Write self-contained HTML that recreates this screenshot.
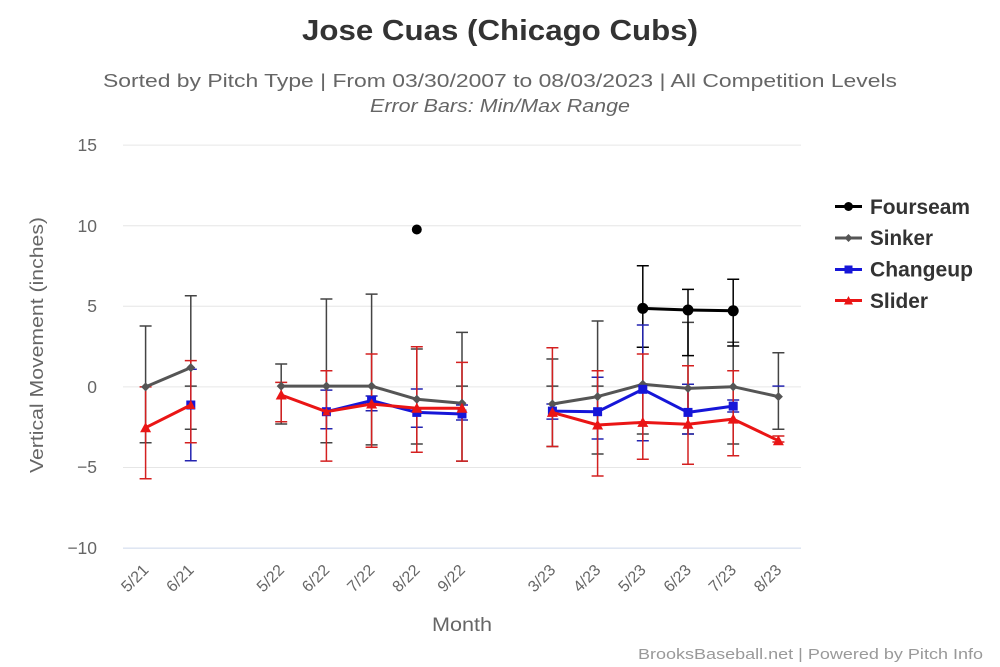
<!DOCTYPE html>
<html>
<head>
<meta charset="utf-8">
<style>
  html,body{margin:0;padding:0;background:#fff;}
  svg{display:block;}
  text{font-family:"Liberation Sans",sans-serif;}
</style>
</head>
<body>
<svg width="1000" height="667" viewBox="0 0 1000 667" xmlns="http://www.w3.org/2000/svg">
  <rect width="1000" height="667" fill="#fff"/>

  <!-- Titles -->
  <text x="500" y="40" text-anchor="middle" font-size="29" font-weight="bold" fill="#333" textLength="396" lengthAdjust="spacingAndGlyphs">Jose Cuas (Chicago Cubs)</text>
  <text x="500" y="87" text-anchor="middle" font-size="18.5" fill="#666" textLength="794" lengthAdjust="spacingAndGlyphs">Sorted by Pitch Type | From 03/30/2007 to 08/03/2023 | All Competition Levels</text>
  <text x="500" y="112" text-anchor="middle" font-size="18" font-style="italic" fill="#666" textLength="260" lengthAdjust="spacingAndGlyphs">Error Bars: Min/Max Range</text>

  <!-- Grid -->
  <g stroke="#e6e6e6" stroke-width="1">
    <line x1="123" y1="145.1" x2="801" y2="145.1"/>
    <line x1="123" y1="225.7" x2="801" y2="225.7"/>
    <line x1="123" y1="306.3" x2="801" y2="306.3"/>
    <line x1="123" y1="386.9" x2="801" y2="386.9"/>
    <line x1="123" y1="467.5" x2="801" y2="467.5"/>
  </g>
  <line x1="123" y1="548.1" x2="801" y2="548.1" stroke="#ccd6eb" stroke-width="1"/>

  <!-- Y tick labels -->
  <g font-size="17.5" fill="#666" text-anchor="end">
    <text x="97" y="151">15</text>
    <text x="97" y="232">10</text>
    <text x="97" y="312">5</text>
    <text x="97" y="393">0</text>
    <text x="97" y="473">−5</text>
    <text x="97" y="554">−10</text>
  </g>

  <!-- Y axis title -->
  <text transform="translate(43,345) rotate(-90)" text-anchor="middle" font-size="18" fill="#666" textLength="256" lengthAdjust="spacingAndGlyphs">Vertical Movement (inches)</text>

  <!-- X labels -->
  <g font-size="16" fill="#666" text-anchor="end">
    <text transform="translate(149.6,571) rotate(-45)">5/21</text>
    <text transform="translate(194.8,571) rotate(-45)">6/21</text>
    <text transform="translate(285.2,571) rotate(-45)">5/22</text>
    <text transform="translate(330.4,571) rotate(-45)">6/22</text>
    <text transform="translate(375.6,571) rotate(-45)">7/22</text>
    <text transform="translate(420.8,571) rotate(-45)">8/22</text>
    <text transform="translate(466,571) rotate(-45)">9/22</text>
    <text transform="translate(556.4,571) rotate(-45)">3/23</text>
    <text transform="translate(601.6,571) rotate(-45)">4/23</text>
    <text transform="translate(646.8,571) rotate(-45)">5/23</text>
    <text transform="translate(692,571) rotate(-45)">6/23</text>
    <text transform="translate(737.2,571) rotate(-45)">7/23</text>
    <text transform="translate(782.4,571) rotate(-45)">8/23</text>
  </g>

  <text x="462" y="631" text-anchor="middle" font-size="19" fill="#666" textLength="60" lengthAdjust="spacingAndGlyphs">Month</text>

  <!-- Error bars: Sinker -->
  <g stroke="#444" stroke-width="1.5" fill="none">
    <path d="M139.6 326H151.6M145.6 326V442.7M139.6 442.7H151.6"/>
    <path d="M184.8 295.7H196.8M190.8 295.7V386.1M184.8 386.1H196.8"/>
    <path d="M275.2 364H287.2M281.2 364V424M275.2 424H287.2"/>
    <path d="M320.4 299H332.4M326.4 299V428.8M320.4 428.8H332.4"/>
    <path d="M365.6 294.1H377.6M371.6 294.1V444.9M365.6 444.9H377.6"/>
    <path d="M410.8 349H422.8M416.8 349V444M410.8 444H422.8"/>
    <path d="M456 332.4H468M462 332.4V461.1M456 461.1H468M456 386.1H468"/>
    <path d="M546.4 359H558.4M552.4 359V446.5M546.4 446.5H558.4M546.4 386.1H558.4"/>
    <path d="M591.6 321H603.6M597.6 321V454M591.6 454H603.6M591.6 386.1H603.6"/>
    <path d="M636.8 347.2H648.8M642.8 347.2V434M636.8 434H648.8"/>
    <path d="M682 322.4H694M688 322.4V434M682 434H694"/>
    <path d="M727.2 342.3H739.2M733.2 342.3V444M727.2 444H739.2"/>
    <path d="M772.4 352.7H784.4M778.4 352.7V429.3M772.4 429.3H784.4"/>
    <path d="M184.8 429.3H196.8M320.4 442.7H332.4"/>
  </g>

  <!-- Error bars: Fourseam -->
  <g stroke="#000" stroke-width="1.5" fill="none">
    <path d="M636.8 265.7H648.8M642.8 265.7V347.2M636.8 347.2H648.8"/>
    <path d="M682 289.4H694M688 289.4V355.6M682 355.6H694"/>
    <path d="M727.2 279.2H739.2M733.2 279.2V346M727.2 346H739.2"/>
  </g>

  <!-- Error bars: Changeup -->
  <g stroke="#2424b0" stroke-width="1.5" fill="none">
    <path d="M184.8 369.2H196.8M190.8 369.2V460.7M184.8 460.7H196.8"/>
    <path d="M320.4 390.1H332.4M326.4 390.1V428.8M320.4 428.8H332.4"/>
    <path d="M365.6 396H377.6M371.6 396V410.8M365.6 410.8H377.6"/>
    <path d="M410.8 389H422.8M416.8 389V427.2M410.8 427.2H422.8"/>
    <path d="M456 405H468M462 405V420M456 420H468"/>
    <path d="M546.4 404H558.4M552.4 404V419.1M546.4 419.1H558.4"/>
    <path d="M591.6 377.2H603.6M597.6 377.2V439M591.6 439H603.6"/>
    <path d="M636.8 325H648.8M642.8 325V440.7M636.8 440.7H648.8"/>
    <path d="M682 384.3H694M688 384.3V434M682 434H694"/>
    <path d="M727.2 400H739.2M733.2 400V412M727.2 412H739.2"/>
    <path d="M772.4 386.1H784.4"/>
  </g>

  <!-- Error bars: Slider -->
  <g stroke="#d42020" stroke-width="1.5" fill="none">
    <path d="M139.6 386.9H151.6M145.6 386.9V478.8M139.6 478.8H151.6"/>
    <path d="M184.8 360.6H196.8M190.8 360.6V442.7M184.8 442.7H196.8"/>
    <path d="M275.2 382.4H287.2M281.2 382.4V421.7M275.2 421.7H287.2"/>
    <path d="M320.4 370.8H332.4M326.4 370.8V461.1M320.4 461.1H332.4"/>
    <path d="M365.6 354H377.6M371.6 354V447.3M365.6 447.3H377.6"/>
    <path d="M410.8 346.8H422.8M416.8 346.8V452.3M410.8 452.3H422.8"/>
    <path d="M456 362.4H468M462 362.4V461.1M456 461.1H468"/>
    <path d="M546.4 347.7H558.4M552.4 347.7V446.5M546.4 446.5H558.4"/>
    <path d="M591.6 370.8H603.6M597.6 370.8V476M591.6 476H603.6"/>
    <path d="M636.8 354H648.8M642.8 354V459.3M636.8 459.3H648.8"/>
    <path d="M682 365.7H694M688 365.7V464.3M682 464.3H694"/>
    <path d="M727.2 370.8H739.2M733.2 370.8V455.7M727.2 455.7H739.2"/>
    <path d="M772.4 436H784.4M778.4 436V442M772.4 442H784.4"/>
  </g>

  <!-- Sinker line -->
  <g stroke="#555" stroke-width="3" fill="none" stroke-linejoin="round">
    <polyline points="145.6,386.9 190.8,367.6"/>
    <polyline points="281.2,386.1 326.4,386.1 371.6,386.1 416.8,399.3 462,403.3"/>
    <polyline points="552.4,404 597.6,396.6 642.8,384.3 688,388.4 733.2,386.7 778.4,396.6"/>
  </g>
  <g fill="#555">
    <polygon points="145.6,382.4 150.1,386.9 145.6,391.4 141.1,386.9"/>
    <polygon points="190.8,363.1 195.3,367.6 190.8,372.1 186.3,367.6"/>
    <polygon points="281.2,381.6 285.7,386.1 281.2,390.6 276.7,386.1"/>
    <polygon points="326.4,381.6 330.9,386.1 326.4,390.6 321.9,386.1"/>
    <polygon points="371.6,381.6 376.1,386.1 371.6,390.6 367.1,386.1"/>
    <polygon points="416.8,394.8 421.3,399.3 416.8,403.8 412.3,399.3"/>
    <polygon points="462,398.8 466.5,403.3 462,407.8 457.5,403.3"/>
    <polygon points="552.4,399.5 556.9,404 552.4,408.5 547.9,404"/>
    <polygon points="597.6,392.1 602.1,396.6 597.6,401.1 593.1,396.6"/>
    <polygon points="642.8,379.8 647.3,384.3 642.8,388.8 638.3,384.3"/>
    <polygon points="688,383.9 692.5,388.4 688,392.9 683.5,388.4"/>
    <polygon points="733.2,382.2 737.7,386.7 733.2,391.2 728.7,386.7"/>
    <polygon points="778.4,392.1 782.9,396.6 778.4,401.1 773.9,396.6"/>
  </g>

  <!-- Changeup line -->
  <g stroke="#1616d8" stroke-width="3" fill="none" stroke-linejoin="round">
    <polyline points="326.4,411.7 371.6,400.6 416.8,412.4 462,414"/>
    <polyline points="552.4,411.1 597.6,411.7 642.8,389.3 688,412.4 733.2,406.1"/>
  </g>
  <g fill="#1616d8">
    <rect x="186.3" y="400.5" width="9" height="9"/>
    <rect x="321.9" y="407.2" width="9" height="9"/>
    <rect x="367.1" y="396.1" width="9" height="9"/>
    <rect x="412.3" y="407.9" width="9" height="9"/>
    <rect x="457.5" y="409.5" width="9" height="9"/>
    <rect x="547.9" y="406.6" width="9" height="9"/>
    <rect x="593.1" y="407.2" width="9" height="9"/>
    <rect x="638.3" y="384.8" width="9" height="9"/>
    <rect x="683.5" y="407.9" width="9" height="9"/>
    <rect x="728.7" y="401.6" width="9" height="9"/>
  </g>

  <!-- Slider line -->
  <g stroke="#ea1515" stroke-width="3" fill="none" stroke-linejoin="round">
    <polyline points="145.6,427.7 190.8,405"/>
    <polyline points="281.2,395 326.4,411.7 371.6,404 416.8,408.3 462,408.3"/>
    <polyline points="552.4,412.4 597.6,425 642.8,422.4 688,424.3 733.2,419.1 778.4,440.7"/>
  </g>
  <g fill="#ea1515">
    <polygon points="145.6,422.2 151.1,432.2 140.1,432.2"/>
    <polygon points="190.8,400 195.3,409 186.3,409"/>
    <polygon points="281.2,389.5 286.7,399.5 275.7,399.5"/>
    <polygon points="326.4,407 330.4,415.5 322.4,415.5"/>
    <polygon points="371.6,398.5 377.1,408.5 366.1,408.5"/>
    <polygon points="416.8,402.8 422.3,412.8 411.3,412.8"/>
    <polygon points="462,402.8 467.5,412.8 456.5,412.8"/>
    <polygon points="552.4,406.9 557.9,416.9 546.9,416.9"/>
    <polygon points="597.6,419.5 603.1,429.5 592.1,429.5"/>
    <polygon points="642.8,416.9 648.3,426.9 637.3,426.9"/>
    <polygon points="688,418.8 693.5,428.8 682.5,428.8"/>
    <polygon points="733.2,413.6 738.7,423.6 727.7,423.6"/>
    <polygon points="778.4,435.2 783.9,445.2 772.9,445.2"/>
  </g>

  <!-- Fourseam line -->
  <polyline points="642.8,308.4 688,310 733.2,310.8" stroke="#000" stroke-width="3" fill="none" stroke-linejoin="round"/>
  <g fill="#000">
    <circle cx="416.8" cy="229.5" r="5"/>
    <circle cx="642.8" cy="308.4" r="5.5"/>
    <circle cx="688" cy="310" r="5.5"/>
    <circle cx="733.2" cy="310.8" r="5.5"/>
  </g>

  <!-- Legend -->
  <g>
    <line x1="835" y1="206.5" x2="862" y2="206.5" stroke="#000" stroke-width="3"/>
    <circle cx="848.5" cy="206.5" r="4.5" fill="#000"/>
    <text x="870" y="214" font-size="21" font-weight="bold" fill="#333" textLength="100" lengthAdjust="spacingAndGlyphs">Fourseam</text>

    <line x1="835" y1="238" x2="862" y2="238" stroke="#555" stroke-width="3"/>
    <polygon points="848.5,234 852.5,238 848.5,242 844.5,238" fill="#555"/>
    <text x="870" y="245" font-size="21" font-weight="bold" fill="#333" textLength="63" lengthAdjust="spacingAndGlyphs">Sinker</text>

    <line x1="835" y1="269.5" x2="862" y2="269.5" stroke="#1616d8" stroke-width="3"/>
    <rect x="844.5" y="265.5" width="8" height="8" fill="#1616d8"/>
    <text x="870" y="276.5" font-size="21" font-weight="bold" fill="#333" textLength="103" lengthAdjust="spacingAndGlyphs">Changeup</text>

    <line x1="835" y1="300.5" x2="862" y2="300.5" stroke="#ea1515" stroke-width="3"/>
    <polygon points="848.5,296 853,304.5 844,304.5" fill="#ea1515"/>
    <text x="870" y="308" font-size="21" font-weight="bold" fill="#333" textLength="58" lengthAdjust="spacingAndGlyphs">Slider</text>
  </g>

  <!-- Footer -->
  <text x="983" y="659" text-anchor="end" font-size="15" fill="#999" textLength="345" lengthAdjust="spacingAndGlyphs">BrooksBaseball.net | Powered by Pitch Info</text>
</svg>
</body>
</html>
